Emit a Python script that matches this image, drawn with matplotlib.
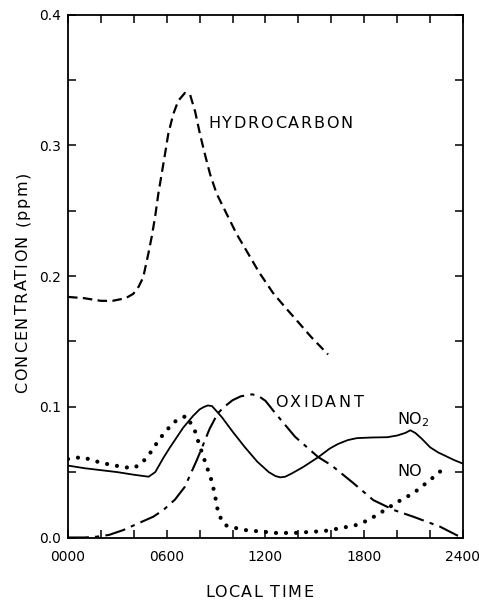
import matplotlib
matplotlib.use("Agg")
import matplotlib.pyplot as plt
from matplotlib.ticker import MultipleLocator, FixedLocator

# ---- data (hour of day, concentration ppm) ----
hc_t = [0, 1, 2, 2.7, 3.5, 3.97, 4.3, 4.57, 4.88, 5.08, 5.29, 5.49, 5.69, 5.89, 6.09, 6.4, 6.7, 7.1, 7.41, 7.72, 8.02, 8.32, 8.63, 9.03, 9.64, 10.25, 10.86, 11.6, 12.46, 13.2, 13.9, 14.8, 15.8]
hc_c = [0.184, 0.183, 0.181, 0.181, 0.183, 0.1864, 0.192, 0.199, 0.217, 0.2296, 0.245, 0.263, 0.278, 0.293, 0.3085, 0.324, 0.334, 0.340, 0.339, 0.326, 0.3085, 0.293, 0.278, 0.263, 0.2475, 0.232, 0.219, 0.203, 0.187, 0.176, 0.166, 0.153, 0.140]

no2_t = [0, 1, 2, 3, 4, 4.9, 5.3, 5.8, 6.2, 7.0, 7.6, 8.0, 8.25, 8.5, 8.75, 9.0, 9.35, 10.0, 10.75, 11.5, 12.2, 12.6, 12.9, 13.2, 13.6, 14.3, 15.2, 15.9, 16.4, 17.0, 17.55, 18.5, 19.4, 20.0, 20.5, 20.8, 21.1, 21.5, 22.0, 22.5, 23.0, 23.5, 24.0]
no2_c = [0.055, 0.053, 0.0515, 0.050, 0.048, 0.0465, 0.050, 0.061, 0.069, 0.084, 0.093, 0.098, 0.0998, 0.101, 0.1005, 0.097, 0.092, 0.081, 0.069, 0.058, 0.050, 0.047, 0.046, 0.0465, 0.049, 0.054, 0.0614, 0.068, 0.0715, 0.0745, 0.076, 0.0765, 0.0767, 0.078, 0.080, 0.082, 0.080, 0.0755, 0.069, 0.065, 0.062, 0.059, 0.0565]

no_t = [0.0, 0.85, 2.05, 3.3, 3.95, 4.4, 4.85, 5.6, 6.4, 7.0, 7.2, 7.7, 7.9, 8.3, 8.75, 9.03, 9.13, 9.54, 10.1, 10.75, 12.6, 13.8, 15.6, 16.5, 17.5, 18.2, 19.0, 20.0, 21.0, 22.0, 23.0]
no_c = [0.060, 0.0615, 0.057, 0.054, 0.053, 0.056, 0.062, 0.076, 0.088, 0.092, 0.093, 0.082, 0.074, 0.059, 0.0426, 0.026, 0.018, 0.0095, 0.0075, 0.0057, 0.0035, 0.0035, 0.005, 0.007, 0.0095, 0.013, 0.019, 0.027, 0.034, 0.044, 0.0546]

ox_t = [0, 1.0, 1.74, 2.5, 3.36, 4.3, 5.18, 5.79, 6.5, 7.1, 7.82, 8.15, 8.6, 9.1, 9.5, 10.0, 10.5, 11.2, 11.6, 12.0, 12.6, 13.2, 13.8, 15.2, 16.0, 17.3, 18.55, 19.8, 20.98, 22.6, 23.8, 24.0]
ox_c = [0.0, 0.0, 0.0006, 0.002, 0.0057, 0.011, 0.0159, 0.021, 0.029, 0.0388, 0.059, 0.069, 0.083, 0.095, 0.100, 0.105, 0.108, 0.1095, 0.108, 0.1045, 0.095, 0.086, 0.077, 0.0615, 0.0553, 0.042, 0.0286, 0.021, 0.0159, 0.0083, 0.0006, 0.0]

x_ticks = [0, 6, 12, 18, 24]
x_labels = ["0000", "0600", "1200", "1800", "2400"]
y_ticks = [0.0, 0.1, 0.2, 0.3, 0.4]
y_labels = ["0.0", "0.1", "0.2", "0.3", "0.4"]

plt.rcParams['font.family'] = ['DejaVu Sans']

W, H = 479, 600
fig = plt.figure(figsize=(W/100, H/100), dpi=100)
ax = fig.add_axes([68/W, 1 - 537.5/H, (463 - 68)/W, (537.5 - 14.5)/H])

ax.plot(hc_t, hc_c, color='black', lw=1.6, linestyle=(0, (4.3, 2.4)))
ax.plot(no2_t, no2_c, color='black', lw=1.3)
ax.plot(no_t, no_c, color='black', lw=3.0, linestyle=(0, (0.01, 2.4)), dash_capstyle='round')
ax.plot(ox_t, ox_c, color='black', lw=1.5, linestyle=(0, (10, 3, 2, 3)))

ax.set_xlim(0, 24)
ax.set_ylim(0, 0.4)
ax.xaxis.set_major_locator(FixedLocator(x_ticks))
ax.set_xticklabels(x_labels)
ax.xaxis.set_minor_locator(MultipleLocator(2))
ax.yaxis.set_major_locator(FixedLocator(y_ticks))
ax.set_yticklabels(y_labels)
ax.yaxis.set_minor_locator(MultipleLocator(0.05))

ax.tick_params(which='both', direction='in', top=True, right=True, length=6, width=1.1, labelsize=10)
ax.tick_params(axis='x', which='major', pad=9)
ax.tick_params(axis='y', which='major', pad=5)
for s in ax.spines.values():
    s.set_linewidth(1.3)

FS = 11.5
renderer = fig.canvas.get_renderer()


def text_width(s, fs):
    if not s.strip():
        return 0.0
    t = fig.text(0, 0, s, fontsize=fs)
    w = t.get_window_extent(renderer).width
    t.remove()
    return w


def spaced_text(px, py_top, s, fs=FS, sp=2.0, align='left', rotation=0):
    """Draw letter-spaced text. px, py_top: pixel position (from top-left) of
    the cap-height centre of the text start (align='left') or middle (align='center')."""
    cap = fs * 100 / 72 * 0.729
    total = text_width(s, fs) + sp * (len(s) - 1)
    offs = []
    for i, ch in enumerate(s):
        offs.append(text_width(s[:i + 1], fs) - text_width(ch, fs) + i * sp)
    if rotation == 0:
        x0 = px - (total / 2 if align == 'center' else 0)
        base = (H - py_top) - cap / 2
        for ch, o in zip(s, offs):
            if ch != ' ':
                fig.text((x0 + o) / W, base / H, ch, fontsize=fs, ha='left', va='baseline')
    else:
        y0 = (H - py_top) - (total / 2 if align == 'center' else 0)
        basex = px + cap / 2
        for ch, o in zip(s, offs):
            if ch != ' ':
                fig.text(basex / W, (y0 + o) / H, ch, fontsize=fs, ha='left', va='baseline',
                         rotation=90, rotation_mode='anchor')


spaced_text(208, 122, "HYDROCARBON", sp=1.8)
spaced_text(275, 401.5, "OXIDANT", sp=2.7)
spaced_text(259, 591, "LOCAL TIME", sp=1.4, align='center')
spaced_text(21, 282, "CONCENTRATION (ppm)", sp=1.6, align='center', rotation=90)

ax.text(20.0, 0.0905, "NO$_2$", fontsize=FS, va='center', ha='left')
ax.text(20.0, 0.0504, "NO", fontsize=FS, va='center', ha='left')

fig.savefig("out.png", dpi=100)
